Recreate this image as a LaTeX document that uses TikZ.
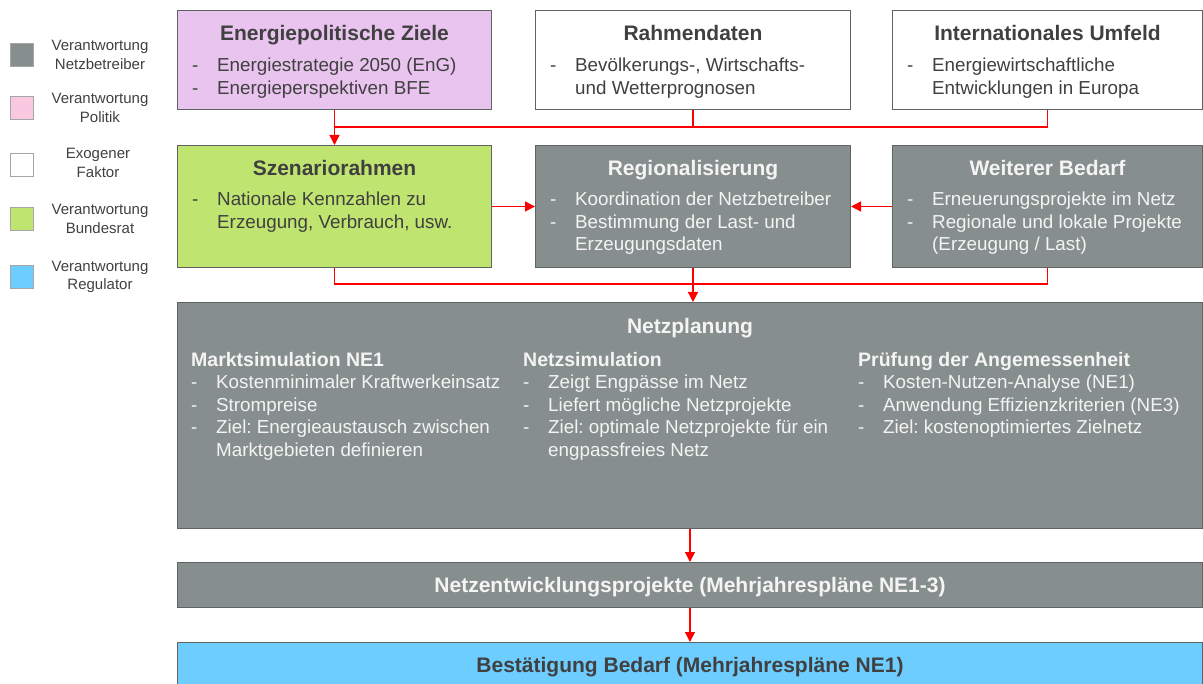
\documentclass[tikz,border=0pt]{standalone}
\usepackage{fontspec}
\setmainfont{Liberation Sans}
\usetikzlibrary{arrows.meta, positioning, calc}
\frenchspacing

\definecolor{netzgrey}{HTML}{878E8E}
\definecolor{politik}{HTML}{E8C4EE}
\definecolor{politiklegend}{HTML}{F9C8E1}
\definecolor{bundesrat}{HTML}{BFE570}
\definecolor{regulator}{HTML}{6ECDFF}
\definecolor{darktext}{HTML}{404040}
\definecolor{lighttext}{HTML}{F4F4F4}
\definecolor{framegrey}{HTML}{5F6363}

\newcommand{\bul}{\makebox[25pt][l]{-}}
\newcommand{\ind}{\hspace*{25pt}}
\newcommand{\subhead}[1]{{\fontsize{19.5}{22.5}\selectfont\bfseries #1}}

\tikzset{box/.style = {
  % Rectangle:
  rectangle,
  draw=framegrey, line width=1pt,
  anchor=north west, inner sep=0pt
  }}
\tikzset{netzbox/.style = {box, fill=netzgrey}}
\tikzset{title/.style = {
  anchor=base, inner sep=0pt,
  font=\fontsize{21}{24}\selectfont\bfseries,
  text=#1
  }}
\tikzset{list/.style = {
  anchor=north west, inner sep=0pt, align=left,
  font=\fontsize{18.8}{22.5}\selectfont,
  text=#1
  }}
\tikzset{legbox/.style = {
  rectangle, minimum size=23pt, inner sep=0pt,
  draw=black!35, line width=0.8pt
  }}
\tikzset{legtext/.style = {
  align=center, inner sep=0pt, text=darktext,
  font=\fontsize{15}{18.5}\selectfont
  }}
\tikzset{arrow/.style = {
  -{Triangle[length=10pt, width=10pt]},
  draw=red, line width=1.3pt
  }}
\tikzset{link/.style = {draw=red, line width=1.3pt}}

\begin{document}
\begin{tikzpicture}[x=1pt, y=-1pt]
  \useasboundingbox (0,0) rectangle (1203,684);

  %
  % Legend
  %
  \node (leg-netz) [legbox, fill=netzgrey] at (21.5,55) {};
  \node (leg-netz-t) [legtext] at (100,55) {Verantwortung\\Netzbetreiber};
  \node (leg-pol) [legbox, fill=politiklegend] at (21.5,108) {};
  \node (leg-pol-t) [legtext] at (100,108) {Verantwortung\\Politik};
  \node (leg-exo) [legbox, fill=white] at (21.5,165) {};
  \node (leg-exo-t) [legtext] at (98,163) {Exogener\\Faktor};
  \node (leg-br) [legbox, fill=bundesrat] at (21.5,218.5) {};
  \node (leg-br-t) [legtext] at (100,219) {Verantwortung\\Bundesrat};
  \node (leg-reg) [legbox, fill=regulator] at (21.5,276.5) {};
  \node (leg-reg-t) [legtext] at (100,277) {Verantwortung\\Regulator};

  %
  % Specification of boxes
  %
  \node (ziele) [box, fill=politik, minimum width=314pt, minimum height=99pt] at (177,10) {};
  \node (rahmen) [box, fill=white, minimum width=315pt, minimum height=99pt] at (535,10) {};
  \node (umfeld) [box, fill=white, minimum width=310pt, minimum height=99pt] at (892,10) {};

  \node (szenario) [box, fill=bundesrat, minimum width=314pt, minimum height=122pt] at (177,145) {};
  \node (regio) [netzbox, minimum width=315pt, minimum height=122pt] at (535,145) {};
  \node (bedarf) [netzbox, minimum width=310pt, minimum height=122pt] at (892,145) {};

  \node (planung) [netzbox, minimum width=1025pt, minimum height=226pt] at (177,302) {};
  \node (nep) [netzbox, minimum width=1025pt, minimum height=45pt] at (177,562) {};
  \node (best) [box, fill=regulator, minimum width=1025pt, minimum height=45pt] at (177,642) {};

  %
  % Specification of texts
  %
  \node (ziele-t) [title=darktext] at ([yshift=-31pt]ziele.north) {Energiepolitische Ziele};
  \node (ziele-l) [list=darktext] at ([xshift=15pt, yshift=-48pt]ziele.north west)
    {\bul Energiestrategie 2050 (EnG)\\ \bul Energieperspektiven BFE};
  \node (rahmen-t) [title=darktext] at ([yshift=-31pt]rahmen.north) {Rahmendaten};
  \node (rahmen-l) [list=darktext] at ([xshift=15pt, yshift=-48pt]rahmen.north west)
    {\bul Bevölkerungs-, Wirtschafts-\\ \ind und Wetterprognosen};
  \node (umfeld-t) [title=darktext] at ([yshift=-31pt]umfeld.north) {Internationales Umfeld};
  \node (umfeld-l) [list=darktext] at ([xshift=15pt, yshift=-48pt]umfeld.north west)
    {\bul Energiewirtschaftliche\\ \ind Entwicklungen in Europa};

  \node (szenario-t) [title=darktext] at ([yshift=-31pt]szenario.north) {Szenariorahmen};
  \node (szenario-l) [list=darktext] at ([xshift=15pt, yshift=-47pt]szenario.north west)
    {\bul Nationale Kennzahlen zu\\ \ind Erzeugung, Verbrauch, usw.};
  \node (regio-t) [title=lighttext] at ([yshift=-31pt]regio.north) {Regionalisierung};
  \node (regio-l) [list=lighttext] at ([xshift=15pt, yshift=-47pt]regio.north west)
    {\bul Koordination der Netzbetreiber\\ \bul Bestimmung der Last- und\\ \ind Erzeugungsdaten};
  \node (bedarf-t) [title=lighttext] at ([yshift=-31pt]bedarf.north) {Weiterer Bedarf};
  \node (bedarf-l) [list=lighttext] at ([xshift=15pt, yshift=-47pt]bedarf.north west)
    {\bul Erneuerungsprojekte im Netz\\ \bul Regionale und lokale Projekte\\ \ind (Erzeugung / Last)};

  \node (planung-t) [title=lighttext] at ([yshift=-32pt]planung.north) {Netzplanung};
  \node (markt) [list=lighttext] at ([xshift=14pt, yshift=-50pt]planung.north west)
    {\subhead{Marktsimulation NE1}\\ \bul Kostenminimaler Kraftwerkeinsatz\\ \bul Strompreise\\
     \bul Ziel: Energieaustausch zwischen\\ \ind Marktgebieten definieren};
  \node (netzsim) [list=lighttext] at ([xshift=346pt, yshift=-50pt]planung.north west)
    {\subhead{Netzsimulation}\\ \bul Zeigt Engpässe im Netz\\ \bul Liefert mögliche Netzprojekte\\
     \bul Ziel: optimale Netzprojekte für ein\\ \ind engpassfreies Netz};
  \node (pruefung) [list=lighttext] at ([xshift=681pt, yshift=-50pt]planung.north west)
    {\subhead{Prüfung der Angemessenheit}\\ \bul Kosten-Nutzen-Analyse (NE1)\\
     \bul Anwendung Effizienzkriterien (NE3)\\ \bul Ziel: kostenoptimiertes Zielnetz};

  \node (nep-t) [title=lighttext] at ([yshift=-7.5pt]nep.center) {Netzentwicklungsprojekte (Mehrjahrespläne NE1-3)};
  \node (best-t) [title=darktext] at ([yshift=-7.5pt]best.center) {Bestätigung Bedarf (Mehrjahrespläne NE1)};

  %
  % Specification of lines
  %
  \coordinate (join-top) at (ziele.south |- 0,127);
  \coordinate (join-mid) at (regio.south |- 0,284);

  \draw [link] (rahmen.south) |- (join-top);
  \draw [link] (umfeld.south) |- (join-top);
  \draw [arrow] (ziele.south) -- (szenario.north);

  \draw [arrow] (szenario.east) -- (regio.west);
  \draw [arrow] (bedarf.west) -- (regio.east);

  \draw [link] (szenario.south) |- (join-mid);
  \draw [link] (bedarf.south) |- (join-mid);
  \draw [arrow] (regio.south) -- (regio.south |- planung.north);

  \draw [arrow] (planung.south) -- (nep.north);
  \draw [arrow] (nep.south) -- (best.north);
\end{tikzpicture}
\end{document}
